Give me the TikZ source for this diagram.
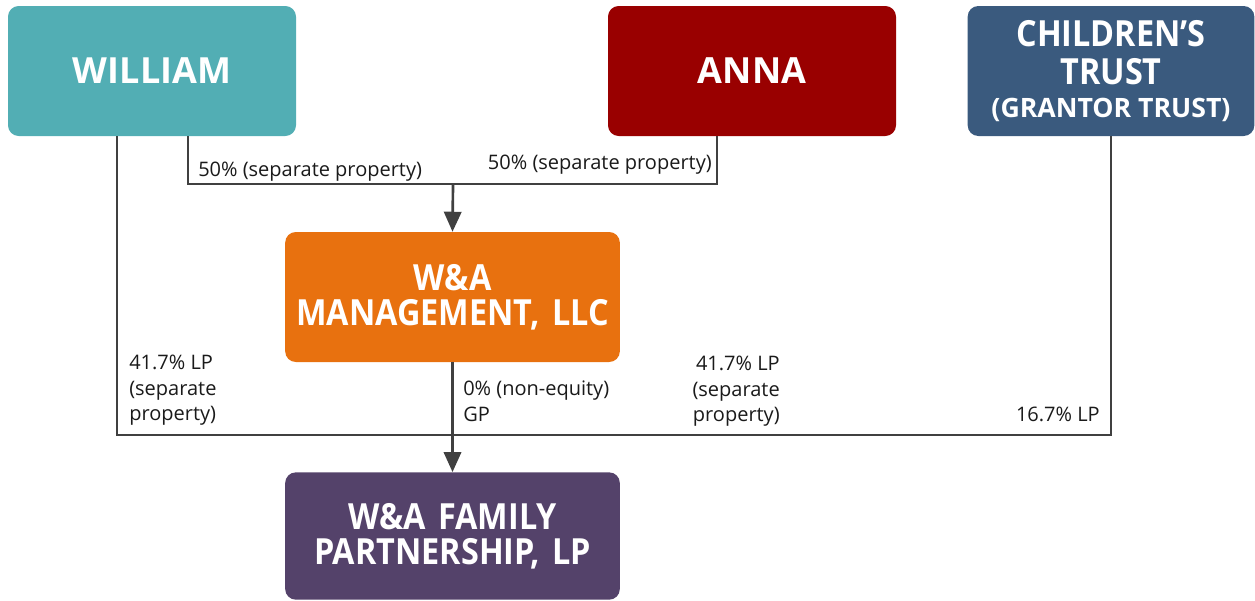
\documentclass[tikz,border=0pt]{standalone}
\usepackage{fontspec}
\setmainfont{Open Sans}
\newfontfamily\condfont[FakeStretch=0.9,WordSpace=0.8]{Open Sans}
\usetikzlibrary{calc,arrows.meta}
\definecolor{cWill}{HTML}{52AEB4}
\definecolor{cAnna}{HTML}{990000}
\definecolor{cTrust}{HTML}{3A5A7E}
\definecolor{cMgmt}{HTML}{E8710F}
\definecolor{cPart}{HTML}{54426A}
\definecolor{cLine}{HTML}{404040}
\definecolor{cText}{HTML}{1A1A1A}
\tikzset{
  box/.style={rounded corners=8pt, inner sep=0pt, text=white, align=center,
    font=\fontsize{27}{33}\selectfont\bfseries},
  cbox/.style={box, font=\condfont\fontsize{27}{26}\selectfont\bfseries},
  conn/.style={draw=cLine, line width=2pt},
  arr/.style={conn, -{Triangle[length=15pt,width=13pt]}},
  lbl/.style={inner sep=0pt, text=cText, font=\fontsize{15}{19}\selectfont},
}
\begin{document}
\begin{tikzpicture}[x=0.75pt,y=-0.75pt]
\useasboundingbox (0,0) rectangle (1255,600);
\node[box, fill=cWill, minimum width=216pt, minimum height=97.5pt] (will) at (152,71) {WILLIAM};
\node[box, fill=cAnna, minimum width=216pt, minimum height=97.5pt] (anna) at (752,71) {ANNA};
\node[cbox, fill=cTrust, minimum width=215pt, minimum height=97.5pt, font=\condfont\fontsize{27}{28.5}\selectfont\bfseries] (trust) at (1111,71)
  {CHILDREN’S\\TRUST\\[-4pt]{\normalfont\bfseries\fontsize{20}{24}\selectfont(GRANTOR TRUST)}};
\node[cbox, fill=cMgmt, text width=251pt, minimum width=251pt, minimum height=97.5pt] (mgmt) at (452.5,297) {W\&A\\MANAGEMENT, LLC};
\node[cbox, fill=cPart, text width=251pt, minimum width=251pt, minimum height=95.5pt] (part) at (452.5,536) {W\&A FAMILY\\PARTNERSHIP, LP};

\coordinate (j1) at (453,184);
\coordinate (j2) at (453,435);

\draw[conn] ($(will.south)+(36,0)$) |- (j1);
\draw[conn] ($(anna.south)+(-35,0)$) |- (j1);
\draw[arr] (j1) -- (mgmt.north);
\draw[conn] ($(will.south)+(-35,0)$) |- (j2);
\draw[conn] (trust.south) |- (j2);
\draw[conn] ($(anna.south)+(36,0)$) -- ($(anna.south)+(36,0)$ |- j2);
\draw[arr] (mgmt.south) -- (part.north);

\node[lbl, anchor=base west] (l1) at (198,176) {50\% (separate property)};
\node[lbl, anchor=base east] (l2) at (712,169) {50\% (separate property)};
\node[lbl, anchor=north west, align=left] (l3) at (129,355) {41.7\% LP\\(separate\\property)};
\node[lbl, anchor=north west, align=left] (l4) at (463,381) {0\% (non-equity)\\GP};
\node[lbl, anchor=north east, align=right] (l5) at (780,356) {41.7\% LP\\(separate\\property)};
\node[lbl, anchor=base east] (l6) at (1100,421) {16.7\% LP};
\end{tikzpicture}
\end{document}
